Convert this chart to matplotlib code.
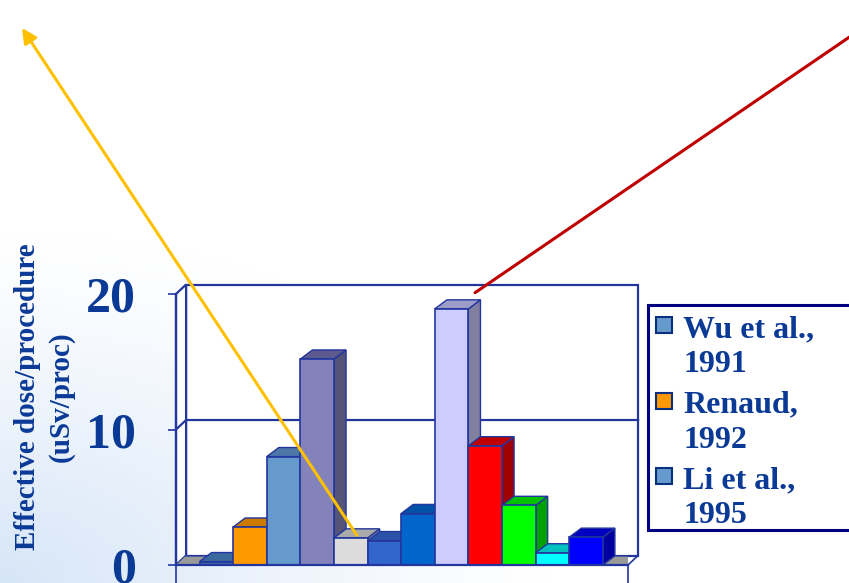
import numpy as np
import matplotlib.pyplot as plt
from matplotlib.patches import Polygon, Rectangle

# dose per procedure for each study, left to right
doses = [0, 0.25, 2.8, 8.0, 15.2, 2.0, 1.8, 3.8, 18.9, 8.8, 4.4, 0.9, 2.05, 0]
face_colors = ['#9A9A9A', '#3D6A9E', '#FF9900', '#6699CC', '#8482BA', '#DCDCDC', '#3366CC',
               '#0066CC', '#CCCCFF', '#FF0000', '#00FF00', '#00FFFF', '#0000FF', '#9A9A9A']
top_colors = ['#9A9A9A', '#3D6A9E', '#CC7A00', '#4D77A6', '#5C5A8E', '#AAAAAA', '#2A52A8',
              '#0052A8', '#9C9CC8', '#C00000', '#00C000', '#00C0C0', '#0000C0', '#9A9A9A']
side_colors = ['#8A8A8A', '#2F557F', '#B86E00', '#4A6E96', '#555378', '#9C9C9C', '#26489A',
               '#00489A', '#807FA0', '#A00000', '#00A000', '#00A0A0', '#0000A0', '#8A8A8A']
y_ticks = [0, 10, 20]
legend_labels = [('Wu et al.,', '1991'), ('Renaud,', '1992'), ('Li et al.,', '1995')]
legend_colors = ['#6699CC', '#FF9900', '#6699CC']

plt.rcParams['font.family'] = 'Liberation Serif'
plt.rcParams['font.weight'] = 'bold'
navy = '#22369E'
txt = '#0A3A96'

W, H = 849, 583
fig = plt.figure(figsize=(W / 100, H / 100), dpi=100)

# pale blue wash in the lower left corner
bg = fig.add_axes([0, 0, 1, 1], zorder=-1)
bg.axis('off')
gx, gy = np.meshgrid(np.linspace(0, 1, 300), np.linspace(0, 1, 200))
d = np.sqrt((gx / 0.65) ** 2 + ((1 - gy) / 0.6) ** 2)
a = np.clip(1 - d, 0, 1) ** 1.2
img = np.ones((200, 300, 3))
blue = np.array([0.84, 0.90, 0.97])
img = img * (1 - a[..., None]) + blue * a[..., None]
bg.imshow(img, extent=[0, 1, 0, 1], aspect='auto', origin='upper')
bg.set_xlim(0, 1)
bg.set_ylim(0, 1)

ax = fig.add_axes([176 / W, 18 / H, 452 / W, 271 / H])
ax.set_xlim(0.3, 13.75)
ax.set_ylim(0, 20)
ax.patch.set_alpha(0)

# walls of the 3-d box
wx, wy = 0.3, 0.7
x0, x1 = 0.3, 13.75
ax.add_patch(Rectangle((x0 + wx, wy), x1 - x0, 20, fc='white', ec=navy, lw=1.6,
                       zorder=1, clip_on=False))
ax.add_patch(Polygon([(x0, 0), (x0 + wx, wy), (x0 + wx, 20 + wy), (x0, 20)], closed=True,
                     fc='white', ec=navy, lw=1.6, zorder=1, clip_on=False))
ax.plot([x0, x0 + wx, x1 + wx], [10, 10 + wy, 10 + wy], color=navy, lw=1.6, zorder=1.5,
        clip_on=False)
ax.plot([x1, x1 + wx], [0, wy], color=navy, lw=1.2, zorder=1.5, clip_on=False)
floor = Polygon([(x0, 0), (x1, 0), (x1 + wx, wy), (x0 + wx, wy)], closed=True,
                transform=ax.transData)

# bars with a top and right side for the 3-d look
dx, dy = 0.36, 0.67
for i, h in enumerate(doses):
    z = 2 + i * 0.01
    side = Polygon([(i + 1, 0), (i + 1 + dx, dy), (i + 1 + dx, h + dy), (i + 1, h)],
                   closed=True, fc=side_colors[i], ec=navy, lw=1, zorder=z, clip_on=False)
    top = Polygon([(i, h), (i + 1, h), (i + 1 + dx, h + dy), (i + dx, h + dy)],
                  closed=True, fc=top_colors[i], ec=navy, lw=1, zorder=z, clip_on=False)
    ax.add_patch(side)
    ax.add_patch(top)
    if h > 0:
        ax.add_patch(Rectangle((i, 0), 1, h, fc=face_colors[i], ec=navy, lw=1.2, zorder=z,
                               clip_on=False))
    else:
        # empty bars only show as a flat tile on the floor
        side.set_visible(False)
        top.set_clip_on(True)
        top.set_clip_path(floor)

for s in ['top', 'right']:
    ax.spines[s].set_visible(False)
for s in ['left', 'bottom']:
    ax.spines[s].set_color(navy)
    ax.spines[s].set_linewidth(1.6)
    ax.spines[s].set_zorder(3)

ax.set_yticks(y_ticks)
ax.set_yticklabels([str(t) for t in y_ticks])
ax.tick_params(axis='y', length=6, width=1.2, color=navy, pad=23, labelsize=36,
               labelcolor=txt)
ax.set_xticks([x0, x1])
ax.set_xticklabels(['', ''])
ax.tick_params(axis='x', length=13, width=1.2, color=navy)

fig.text(44 / W, 1 - 397 / H, 'Effective dose/procedure\n(uSv/proc)', rotation=90,
         ha='center', va='center', fontsize=21, color=txt, linespacing=1.3)

# callout lines
ax.annotate('', xy=(22 / W, 1 - 28 / H), xycoords='figure fraction', xytext=(5.68, 2.2),
            textcoords='data',
            arrowprops=dict(arrowstyle='-|>', color='#FFC000', lw=2.2, mutation_scale=22,
                            shrinkA=0, shrinkB=0),
            annotation_clip=False, zorder=6)
ax.annotate('', xy=(870 / W, 1 - 23 / H), xycoords='figure fraction', xytext=(9.2, 20.1),
            textcoords='data',
            arrowprops=dict(arrowstyle='-', color='#C00000', lw=2.2, shrinkA=0, shrinkB=0),
            annotation_clip=False, zorder=6)

# legend box, partly cut off at the right
fig.add_artist(Rectangle((648 / W, 1 - 530 / H), 0.3, 225 / H, transform=fig.transFigure,
                         fc='white', ec='#000080', lw=2.2))
for k, (l1, l2) in enumerate(legend_labels):
    off = k * 75.5
    fig.add_artist(Rectangle((656 / W, 1 - (333 + off) / H), 16 / W, 16 / H,
                             transform=fig.transFigure, fc=legend_colors[k], ec='#0A2F80',
                             lw=1.5))
    fig.text(683 / W, 1 - (337 + off) / H, l1, va='baseline', ha='left', fontsize=23,
             color=txt)
    fig.text(683 / W, 1 - (372 + off) / H, l2, va='baseline', ha='left', fontsize=23,
             color=txt)

fig.savefig('out.png', dpi=100)
